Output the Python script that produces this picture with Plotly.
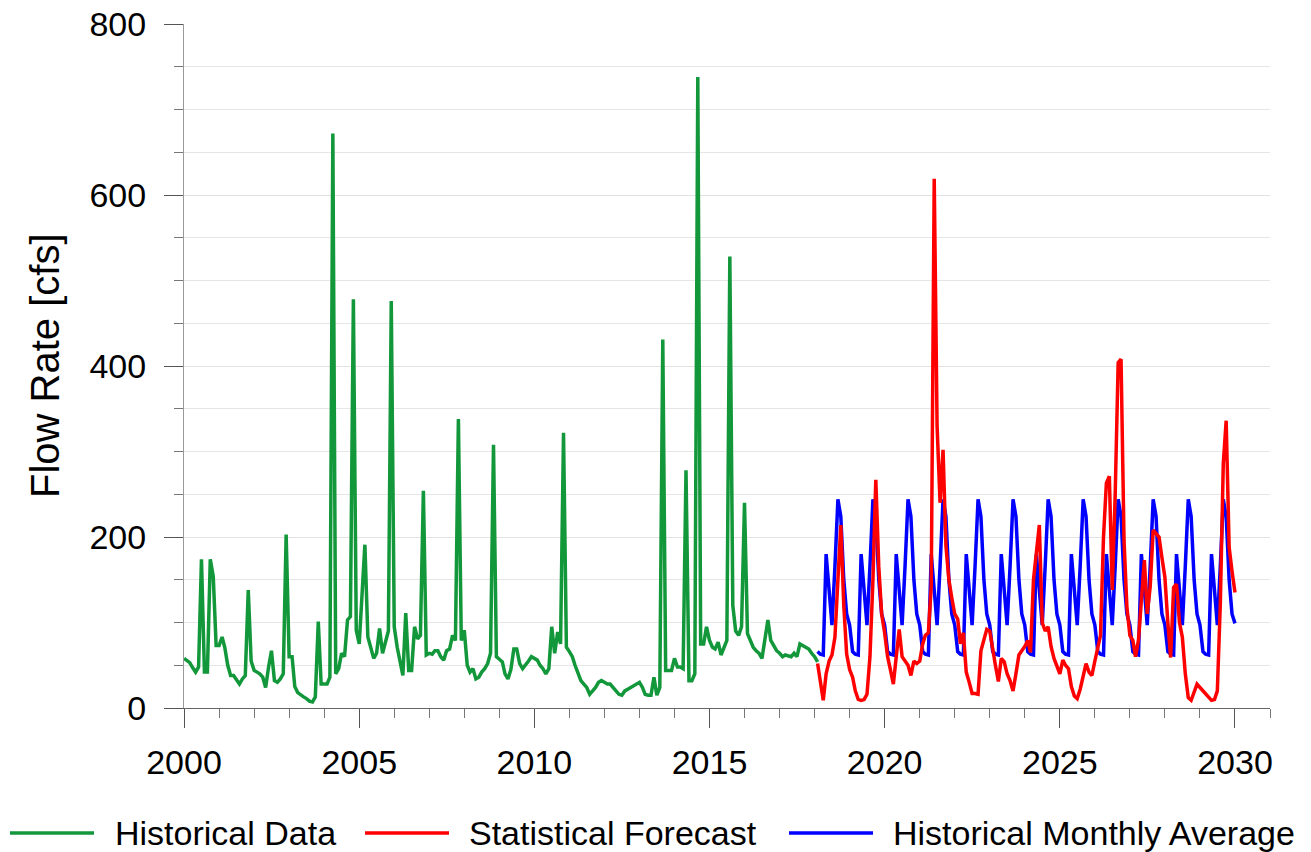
import pandas as pd
import plotly.graph_objects as go

# ---------------- data (monthly, cfs) ----------------
# Historical data: Jan 2000 .. Feb 2018
hist_start = "2000-01-01"
hist_values = [
    58, 56, 53, 47, 42, 48, 174, 42, 42, 174, 154, 73,      # 2000
    73, 83, 71, 50, 38, 38, 33, 28, 34, 38, 138, 55,        # 2001
    44, 42, 40, 36, 24, 48, 67, 32, 30, 34, 40, 203,        # 2002
    60, 60, 25, 18, 15, 13, 11, 8, 7, 13, 101, 28,          # 2003
    28, 28, 36, 672, 40, 46, 64, 60, 103, 107, 478, 91,     # 2004
    75, 130, 191, 83, 71, 58, 64, 93, 64, 79, 90, 476,      # 2005
    95, 71, 55, 38, 111, 44, 44, 95, 81, 85, 254, 62,       # 2006
    64, 63, 67, 67, 60, 56, 67, 69, 85, 79, 338, 79,        # 2007
    91, 50, 42, 46, 34, 36, 42, 46, 52, 64, 308, 60,        # 2008
    57, 54, 40, 34, 45, 69, 69, 52, 46, 50, 55, 60,         # 2009
    58, 56, 50, 46, 40, 46, 95, 64, 89, 75, 322, 71,        # 2010
    66, 60, 50, 40, 32, 28, 24, 16, 20, 24, 30, 32,         # 2011
    30, 28, 28, 24, 20, 16, 15, 20, 22, 24, 26, 28,         # 2012
    30, 24, 16, 15, 15, 36, 15, 24, 431, 44, 44, 44,        # 2013
    58, 48, 48, 46, 278, 32, 32, 40, 738, 75, 75, 95,       # 2014
    79, 71, 69, 77, 62, 70, 79, 528, 120, 90, 85, 95,       # 2015
    240, 87, 80, 71, 67, 64, 58, 80, 103, 79, 73, 67,       # 2016
    64, 60, 62, 61, 60, 64, 60, 75, 73, 71, 69, 64,         # 2017
    60, 54,                                                 # 2018
]

# Forecast and monthly-average series: Feb 2018 .. Jan 2030
fc_start = "2018-02-01"
forecast_values = [
    52, 28, 9, 40, 55, 62, 83, 150, 214, 120, 63,           # 2018
    45, 36, 20, 10, 9, 10, 16, 60, 150, 267, 165, 110,      # 2019
    88, 60, 45, 28, 60, 92, 60, 55, 50, 38, 55, 52,         # 2020
    55, 75, 85, 88, 142, 619, 330, 240, 302, 190, 150, 129, # 2021
    110, 104, 75, 88, 42, 30, 17, 17, 16, 67, 80, 92,       # 2022
    90, 67, 50, 31, 58, 54, 40, 32, 20, 40, 62, 67,         # 2023
    72, 79, 65, 150, 180, 214, 100, 90, 95, 72, 58, 48,     # 2024
    40, 56, 50, 46, 25, 14, 11, 22, 40, 52, 42, 38,         # 2025
    55, 70, 85, 200, 263, 271, 138, 250, 404, 408, 196, 118,# 2026
    85, 79, 60, 80, 126, 173, 110, 142, 208, 204, 200, 176, # 2027
    153, 100, 59, 141, 145, 100, 83, 40, 12, 9, 18, 28,     # 2028
    24, 20, 16, 12, 9, 10, 20, 122, 286, 336, 188, 160,     # 2029
    135,                                                    # 2030
]
monthly_avg_values = [
    66, 63, 62, 180, 138, 97, 166, 244, 224, 150, 110,      # 2018
    97, 66, 63, 62, 180, 138, 97, 166, 244, 224, 150, 110,  # 2019
    97, 66, 63, 62, 180, 138, 97, 166, 244, 224, 150, 110,  # 2020
    97, 66, 63, 62, 180, 138, 97, 166, 244, 224, 150, 110,  # 2021
    97, 66, 63, 62, 180, 138, 97, 166, 244, 224, 150, 110,  # 2022
    97, 66, 63, 62, 180, 138, 97, 166, 244, 224, 150, 110,  # 2023
    97, 66, 63, 62, 180, 138, 97, 166, 244, 224, 150, 110,  # 2024
    97, 66, 63, 62, 180, 138, 97, 166, 244, 224, 150, 110,  # 2025
    97, 66, 63, 62, 180, 138, 97, 166, 244, 224, 150, 110,  # 2026
    97, 66, 63, 62, 180, 138, 97, 166, 244, 224, 150, 110,  # 2027
    97, 66, 63, 62, 180, 138, 97, 166, 244, 224, 150, 110,  # 2028
    97, 66, 63, 62, 180, 138, 97, 166, 244, 224, 150, 110,  # 2029
    99,                                                     # 2030
]

series_names = ["Historical Data", "Statistical Forecast", "Historical Monthly Average"]
series_colors = ["#12973a", "#ff0000", "#0000ff"]
y_title = "Flow Rate [cfs]"

hist_dates = pd.date_range(hist_start, periods=len(hist_values), freq="MS")
fc_dates = pd.date_range(fc_start, periods=len(forecast_values), freq="MS")
avg_dates = pd.date_range(fc_start, periods=len(monthly_avg_values), freq="MS")

FONT = "Liberation Sans, Arial, sans-serif"
W, H = 1311, 852
L, R, T, B = 184, 41, 24, 144
PW, PH = W - L - R, H - T - B
LW = 3.5

def px_x(p):
    return (p - L) / PW

def px_y(p):
    return (H - B - p) / PH

fig = go.Figure()
fig.add_trace(go.Scatter(x=hist_dates, y=hist_values, mode="lines",
                         line=dict(color=series_colors[0], width=LW),
                         name=series_names[0], showlegend=False))
fig.add_trace(go.Scatter(x=avg_dates, y=monthly_avg_values, mode="lines",
                         line=dict(color=series_colors[2], width=LW),
                         name=series_names[2], showlegend=False))
fig.add_trace(go.Scatter(x=fc_dates, y=forecast_values, mode="lines",
                         line=dict(color=series_colors[1], width=LW),
                         name=series_names[1], showlegend=False))

fig.update_layout(
    width=W, height=H,
    margin=dict(l=L, r=R, t=T, b=B, autoexpand=False),
    paper_bgcolor="white", plot_bgcolor="white",
    font=dict(family=FONT, size=34, color="#000"),
    showlegend=False,
)

fig.update_xaxes(
    type="date", automargin=False,
    range=["2000-01-01", "2031-01-01"],
    tick0="2000-01-01", dtick="M60", tickformat="%Y",
    ticks="outside", ticklen=19, tickcolor="#555", tickwidth=1,
    showline=True, linecolor="#666", linewidth=1,
    showgrid=False, zeroline=False,
    tickfont=dict(size=34, color="#000", family=FONT),
    ticklabelstandoff=5,
    minor=dict(dtick="M12", tick0="2000-01-01", ticks="outside", ticklen=9,
               tickcolor="#777", showgrid=False),
)
fig.update_yaxes(
    automargin=False,
    range=[0, 800], dtick=200, tick0=0,
    ticks="outside", ticklen=19, tickcolor="#555", tickwidth=1,
    showline=True, linecolor="#999", linewidth=1,
    showgrid=True, gridcolor="#e2e2e2", gridwidth=1,
    zeroline=False,
    tickfont=dict(size=34, color="#000", family=FONT),
    ticklabelstandoff=11,
    minor=dict(dtick=50, ticks="outside", ticklen=9, tickcolor="#777",
               showgrid=True, gridcolor="#e6e6e6", gridwidth=1),
)

# y-axis title
fig.add_annotation(text=y_title, xref="paper", yref="paper",
                   x=px_x(45), y=px_y(366), textangle=-90,
                   showarrow=False, xanchor="center", yanchor="middle",
                   font=dict(size=40, color="#000", family=FONT))

# legend drawn beneath the plot
legend_items = [
    (10, 94, 113, 0),
    (365, 449, 467, 1),
    (789, 873, 891, 2),
]
ly = 833
for x0, x1, tx, idx in legend_items:
    fig.add_shape(type="line", xref="paper", yref="paper",
                  x0=px_x(x0), x1=px_x(x1), y0=px_y(ly), y1=px_y(ly),
                  line=dict(color=series_colors[idx], width=3.5))
    fig.add_annotation(text=series_names[idx], xref="paper", yref="paper",
                       x=px_x(tx), y=px_y(ly), showarrow=False,
                       xanchor="left", yanchor="middle",
                       font=dict(size=34, color="#000", family=FONT))

fig.write_html("out.html")
